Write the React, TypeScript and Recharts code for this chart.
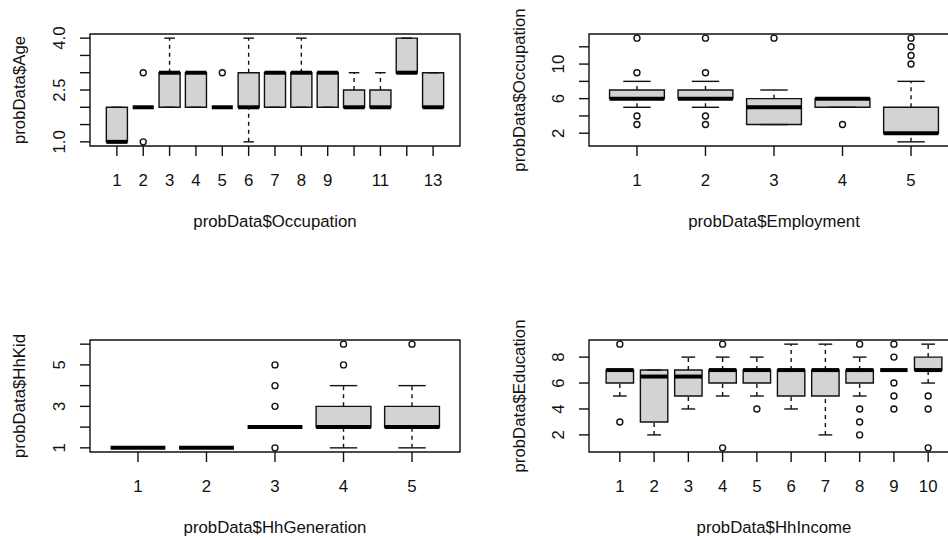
import React from 'react';
import {
  ComposedChart,
  XAxis,
  YAxis,
  Scatter,
  ReferenceArea,
  ReferenceLine,
} from 'recharts';

// probData$Age ~ probData$Occupation
const occupationCats = [1, 2, 3, 4, 5, 6, 7, 8, 9, 10, 11, 12, 13];
const occupationLabels = ['1', '2', '3', '4', '5', '6', '7', '8', '9', '', '11', '', '13'];
const ageLow = [1, 2, 2, 2, 2, 1, 2, 2, 2, 2, 2, 3, 2];
const ageQ1 = [1, 2, 2, 2, 2, 2, 2, 2, 2, 2, 2, 3, 2];
const ageMed = [1, 2, 3, 3, 2, 2, 3, 3, 3, 2, 2, 3, 2];
const ageQ3 = [2, 2, 3, 3, 2, 3, 3, 3, 3, 2.5, 2.5, 4, 3];
const ageHigh = [2, 2, 4, 3, 2, 4, 3, 4, 3, 3, 3, 4, 3];
const ageOutliers = [
  { x: 2, y: 3 },
  { x: 2, y: 1 },
  { x: 5, y: 3 },
];
const ageTicks = [1, 1.5, 2, 2.5, 3, 3.5, 4];
const ageLabels = ['1.0', '', '', '2.5', '', '', '4.0'];

// probData$Occupation ~ probData$Employment
const employmentCats = [1, 2, 3, 4, 5];
const employmentLabels = ['1', '2', '3', '4', '5'];
const occLow = [5, 5, 3, 5, 1];
const occQ1 = [6, 6, 3, 5, 2];
const occMed = [6, 6, 5, 6, 2];
const occQ3 = [7, 7, 6, 6, 5];
const occHigh = [8, 8, 7, 6, 8];
const occOutliers = [
  { x: 1, y: 13 }, { x: 1, y: 9 }, { x: 1, y: 4 }, { x: 1, y: 3 },
  { x: 2, y: 13 }, { x: 2, y: 9 }, { x: 2, y: 4 }, { x: 2, y: 3 },
  { x: 3, y: 13 },
  { x: 4, y: 3 },
  { x: 5, y: 13 }, { x: 5, y: 12 }, { x: 5, y: 11 }, { x: 5, y: 10 },
];
const occTicks = [2, 4, 6, 8, 10, 12];
const occLabels = ['2', '', '6', '', '10', ''];

// probData$HhKid ~ probData$HhGeneration
const generationCats = [1, 2, 3, 4, 5];
const generationLabels = ['1', '2', '3', '4', '5'];
const kidLow = [1, 1, 2, 1, 1];
const kidQ1 = [1, 1, 2, 2, 2];
const kidMed = [1, 1, 2, 2, 2];
const kidQ3 = [1, 1, 2, 3, 3];
const kidHigh = [1, 1, 2, 4, 4];
const kidOutliers = [
  { x: 3, y: 5 }, { x: 3, y: 4 }, { x: 3, y: 3 }, { x: 3, y: 1 },
  { x: 4, y: 6 }, { x: 4, y: 5 },
  { x: 5, y: 6 },
];
const kidTicks = [1, 2, 3, 4, 5, 6];
const kidLabels = ['1', '', '3', '', '5', ''];

// probData$Education ~ probData$HhIncome
const incomeCats = [1, 2, 3, 4, 5, 6, 7, 8, 9, 10];
const incomeLabels = ['1', '2', '3', '4', '5', '6', '7', '8', '9', '10'];
const eduLow = [5, 2, 4, 5, 5, 4, 2, 5, 7, 6];
const eduQ1 = [6, 3, 5, 6, 6, 5, 5, 6, 7, 7];
const eduMed = [7, 6.5, 6.5, 7, 7, 7, 7, 7, 7, 7];
const eduQ3 = [7, 7, 7, 7, 7, 7, 7, 7, 7, 8];
const eduHigh = [7, 7, 8, 8, 8, 9, 9, 8, 7, 9];
const eduOutliers = [
  { x: 1, y: 9 }, { x: 1, y: 3 },
  { x: 4, y: 9 }, { x: 4, y: 1 },
  { x: 5, y: 4 },
  { x: 8, y: 9 }, { x: 8, y: 4 }, { x: 8, y: 3 }, { x: 8, y: 2 },
  { x: 9, y: 9 }, { x: 9, y: 8 }, { x: 9, y: 6 }, { x: 9, y: 5 }, { x: 9, y: 4 },
  { x: 10, y: 5 }, { x: 10, y: 4 }, { x: 10, y: 1 },
];
const eduTicks = [2, 4, 6, 8];
const eduLabels = ['2', '4', '6', '8'];

const FONT = "'Liberation Sans', Arial, Helvetica, sans-serif";
const FONT_SIZE = 16.8;
const INK = '#111';
const LW = 1.4;
const BOX_FILL = '#d3d3d3';

type Pt = { x: number; y: number };

interface PanelProps {
  cats: number[];
  xLabels: string[];
  low: number[];
  q1: number[];
  med: number[];
  q3: number[];
  high: number[];
  outliers: Pt[];
  yTicks: number[];
  yLabels: string[];
  xTitle: string;
  yTitle: string;
  left: number;
  top: number;
  width: number;
  height: number;
  marginTop: number;
  marginRight: number;
  yAxisWidth: number;
  xAxisHeight: number;
  yTitleOffset: number;
}

const YTick = (props: any) => {
  const { x, y, payload, ticks, labels } = props;
  const text = labels[ticks.indexOf(payload.value)] ?? '';
  return (
    <g transform={`translate(${x},${y})`}>
      <text transform="rotate(-90)" textAnchor="middle" fill={INK} fontSize={FONT_SIZE} fontFamily={FONT}>
        {text}
      </text>
    </g>
  );
};

const XTick = (props: any) => {
  const { x, y, payload, ticks, labels } = props;
  const text = labels[ticks.indexOf(payload.value)] ?? '';
  return (
    <text x={x} y={y} dy="0.71em" textAnchor="middle" fill={INK} fontSize={FONT_SIZE} fontFamily={FONT}>
      {text}
    </text>
  );
};

const BoxPanel: React.FC<PanelProps> = (p) => {
  const n = p.cats.length;
  // R pads each axis range by 4%
  const xDomain = [0.5 - 0.04 * n, n + 0.5 + 0.04 * n];
  const allY = [...p.low, ...p.high, ...p.outliers.map(o => o.y)];
  const yMin = Math.min(...allY);
  const yMax = Math.max(...allY);
  const yPad = (yMax - yMin) * 0.04;
  const yDomain = [yMin - yPad, yMax + yPad];

  return (
    <div style={{ position: 'absolute', left: p.left, top: p.top }}>
      <ComposedChart
        width={p.width}
        height={p.height}
        margin={{ top: p.marginTop, right: p.marginRight, bottom: 0, left: 0 }}
      >
        <XAxis
          type="number"
          dataKey="x"
          domain={xDomain}
          ticks={p.cats}
          interval={0}
          allowDataOverflow
          axisLine={false}
          tickLine={{ stroke: INK, strokeWidth: LW }}
          tickSize={10}
          tickMargin={18}
          height={p.xAxisHeight}
          tick={<XTick ticks={p.cats} labels={p.xLabels} />}
          label={{ value: p.xTitle, position: 'insideTop', offset: 69, fill: INK, fontSize: FONT_SIZE, fontFamily: FONT }}
        />
        <YAxis
          type="number"
          dataKey="y"
          domain={yDomain}
          ticks={p.yTicks}
          interval={0}
          allowDataOverflow
          axisLine={false}
          tickLine={{ stroke: INK, strokeWidth: LW }}
          tickSize={10}
          tickMargin={15}
          width={p.yAxisWidth}
          tick={<YTick ticks={p.yTicks} labels={p.yLabels} />}
          label={{
            value: p.yTitle,
            angle: -90,
            position: 'insideLeft',
            offset: p.yTitleOffset,
            fill: INK,
            fontSize: FONT_SIZE,
            fontFamily: FONT,
            style: { textAnchor: 'middle' },
          }}
        />
        {p.cats.map((c, i) => (
          <ReferenceArea
            key={`box-${c}`}
            x1={c - 0.4}
            x2={c + 0.4}
            y1={p.q1[i]}
            y2={p.q3[i]}
            fill={BOX_FILL}
            fillOpacity={1}
            stroke={INK}
            strokeWidth={LW}
            ifOverflow="visible"
          />
        ))}
        {p.cats.map((c, i) => (
          <ReferenceLine
            key={`wu-${c}`}
            segment={[{ x: c, y: p.q3[i] }, { x: c, y: p.high[i] }]}
            stroke={INK}
            strokeWidth={LW}
            strokeDasharray="4 4"
            ifOverflow="visible"
          />
        ))}
        {p.cats.map((c, i) => (
          <ReferenceLine
            key={`wl-${c}`}
            segment={[{ x: c, y: p.low[i] }, { x: c, y: p.q1[i] }]}
            stroke={INK}
            strokeWidth={LW}
            strokeDasharray="4 4"
            ifOverflow="visible"
          />
        ))}
        {p.cats.map((c, i) => (
          <ReferenceLine
            key={`cu-${c}`}
            segment={[{ x: c - 0.2, y: p.high[i] }, { x: c + 0.2, y: p.high[i] }]}
            stroke={INK}
            strokeWidth={LW}
            ifOverflow="visible"
          />
        ))}
        {p.cats.map((c, i) => (
          <ReferenceLine
            key={`cl-${c}`}
            segment={[{ x: c - 0.2, y: p.low[i] }, { x: c + 0.2, y: p.low[i] }]}
            stroke={INK}
            strokeWidth={LW}
            ifOverflow="visible"
          />
        ))}
        {p.cats.map((c, i) => (
          <ReferenceLine
            key={`med-${c}`}
            segment={[{ x: c - 0.4, y: p.med[i] }, { x: c + 0.4, y: p.med[i] }]}
            stroke="#000"
            strokeWidth={4}
            ifOverflow="visible"
          />
        ))}
        <ReferenceArea
          x1={xDomain[0]}
          x2={xDomain[1]}
          y1={yDomain[0]}
          y2={yDomain[1]}
          fill="none"
          stroke={INK}
          strokeWidth={LW}
          ifOverflow="visible"
        />
        <Scatter
          data={p.outliers}
          isAnimationActive={false}
          shape={(s: any) => (
            <circle cx={s.cx} cy={s.cy} r={3} fill="none" stroke={INK} strokeWidth={LW} />
          )}
        />
      </ComposedChart>
    </div>
  );
};

export default function App() {
  return (
    <div
      style={{
        position: 'absolute',
        left: 0,
        top: 0,
        width: 948,
        height: 538,
        overflow: 'hidden',
        background: '#fff',
      }}
    >
      <BoxPanel
        cats={occupationCats} xLabels={occupationLabels}
        low={ageLow} q1={ageQ1} med={ageMed} q3={ageQ3} high={ageHigh}
        outliers={ageOutliers} yTicks={ageTicks} yLabels={ageLabels}
        xTitle="probData$Occupation" yTitle="probData$Age"
        left={0} top={0} width={474} height={269}
        marginTop={34} marginRight={14} yAxisWidth={90} xAxisHeight={123} yTitleOffset={19}
      />
      <BoxPanel
        cats={employmentCats} xLabels={employmentLabels}
        low={occLow} q1={occQ1} med={occMed} q3={occQ3} high={occHigh}
        outliers={occOutliers} yTicks={occTicks} yLabels={occLabels}
        xTitle="probData$Employment" yTitle="probData$Occupation"
        left={474} top={0} width={500} height={269}
        marginTop={34} marginRight={15} yAxisWidth={115} xAxisHeight={123} yTitleOffset={45}
      />
      <BoxPanel
        cats={generationCats} xLabels={generationLabels}
        low={kidLow} q1={kidQ1} med={kidMed} q3={kidQ3} high={kidHigh}
        outliers={kidOutliers} yTicks={kidTicks} yLabels={kidLabels}
        xTitle="probData$HhGeneration" yTitle="probData$HhKid"
        left={0} top={269} width={474} height={269}
        marginTop={71} marginRight={14} yAxisWidth={90} xAxisHeight={86} yTitleOffset={19}
      />
      <BoxPanel
        cats={incomeCats} xLabels={incomeLabels}
        low={eduLow} q1={eduQ1} med={eduMed} q3={eduQ3} high={eduHigh}
        outliers={eduOutliers} yTicks={eduTicks} yLabels={eduLabels}
        xTitle="probData$HhIncome" yTitle="probData$Education"
        left={474} top={269} width={500} height={269}
        marginTop={71} marginRight={15} yAxisWidth={115} xAxisHeight={86} yTitleOffset={45}
      />
    </div>
  );
}
